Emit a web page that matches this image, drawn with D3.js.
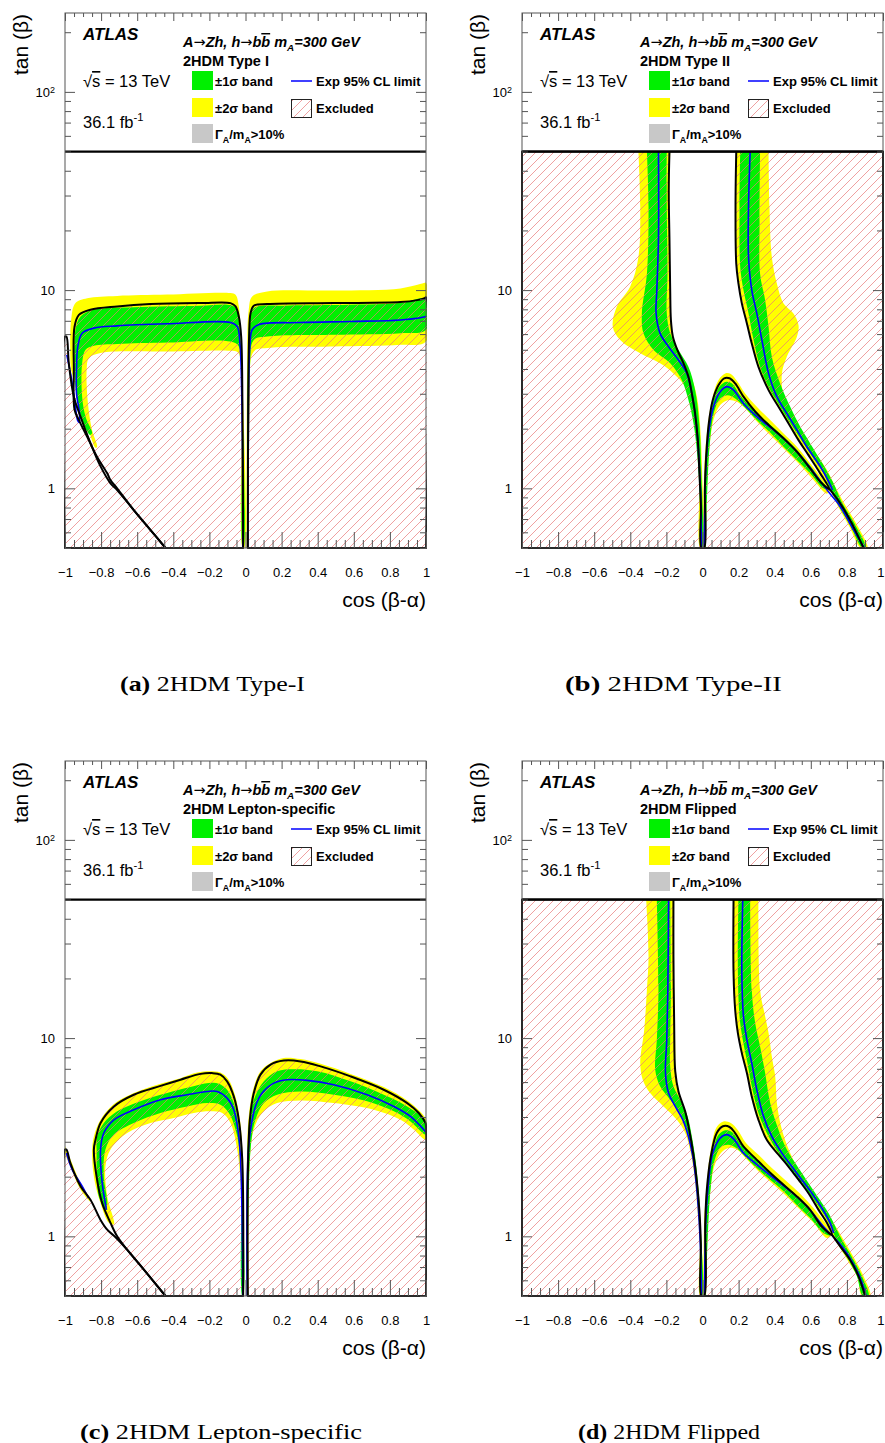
<!DOCTYPE html>
<html>
<head>
<meta charset="utf-8">
<script src="https://cdn.jsdelivr.net/npm/d3@7"></script>
<style>
  body { margin: 0; background: #fff; }
  svg { display: block; }
</style>
</head>
<body>
<div id="chart"></div>
<script>
// contourPanels - ATLAS A->Zh exclusion contours in the (cos(b-a), tan b) plane

// ---- axis data ----
const X_DOMAIN = [-1, 1];
const Y_DOMAIN = [0.5, 250];
const Y_CUT = 50; // contours are only drawn below tan(beta) = 50
const xMajorTicks = [-1, -0.8, -0.6, -0.4, -0.2, 0, 0.2, 0.4, 0.6, 0.8, 1];
const xTickLabels = ['\u22121', '\u22120.8', '\u22120.6', '\u22120.4', '\u22120.2', '0', '0.2', '0.4', '0.6', '0.8', '1'];
const xMinorTicks = d3.range(-1, 1.0001, 0.05).map(v => +v.toFixed(2)).filter(v => !xMajorTicks.includes(v));
const yMajorTicks = [1, 10, 100];
const yTickLabels = ['1', '10', '10^2'];
const yMinorTicks = [0.5, 0.6, 0.7, 0.8, 0.9, 2, 3, 4, 5, 6, 7, 8, 9, 20, 30, 40, 50, 60, 70, 80, 90, 200];

// ---- 2HDM Type I : [cos(beta-alpha), tan(beta)] ----
const typeI_obsCorner = [[-0.992,5.83],[-0.979,4.28],[-0.951,2.9],[-0.914,2.3],[-0.859,1.69],[-0.803,1.29],[-0.748,1.06],[-0.711,0.98],[-0.619,0.777],[-0.526,0.616],[-0.443,0.5]];
const typeI_obsLeft = [[-0.443,0.5],[-0.526,0.616],[-0.619,0.777],[-0.711,1.0],[-0.748,1.1],[-0.766,1.19],[-0.822,1.44],[-0.877,1.82],[-0.923,2.21],[-0.947,2.49],[-0.951,3.96],[-0.947,6.55],[-0.923,7.5],[-0.859,7.96],[-0.711,8.27],[-0.526,8.5],[-0.249,8.6],[-0.083,8.6],[-0.055,8.27],[-0.037,7.36],[-0.024,5.83],[-0.017,2.69],[-0.013,0.5]];
const typeI_obsRight = [[0.013,0.5],[0.015,2.69],[0.02,5.83],[0.028,7.65],[0.046,8.34],[0.12,8.5],[0.489,8.6],[0.859,8.7],[0.951,8.9],[0.992,9.1],[1,9.2]];
const typeI_expLeft = [[-0.99,4.71],[-0.965,3.6],[-0.945,2.7],[-0.93,2.2],[-0.922,2.15],[-0.92,2.4],[-0.936,3.0],[-0.936,3.96],[-0.929,5.19],[-0.905,6.06],[-0.84,6.43],[-0.711,6.6],[-0.434,6.76],[-0.083,6.86],[-0.046,6.55],[-0.031,5.4],[-0.02,2.69],[-0.015,0.5]];
const typeI_expRight = [[0.013,0.5],[0.017,2.69],[0.024,5.19],[0.037,6.31],[0.074,6.7],[0.305,6.86],[0.582,6.95],[0.859,7.07],[0.997,7.36],[1,7.4]];
const typeI_yellowLeft = [[-0.97,4.28],[-0.966,7.08],[-0.942,8.6],[-0.877,9.1],[-0.711,9.35],[-0.434,9.5],[-0.083,9.66],[-0.055,9.47],[-0.037,8.27],[-0.028,5.83],[-0.02,2.69],[-0.015,0.5],[-0.007,0.5],[-0.013,2.69],[-0.024,4.28],[-0.042,4.85],[-0.083,4.94],[-0.434,4.9],[-0.803,4.81],[-0.868,4.53],[-0.88,3.96],[-0.873,2.69],[-0.85,1.97],[-0.822,1.62],[-0.83,1.6],[-0.877,2.05],[-0.914,2.49],[-0.942,3.26],[-0.966,3.96]];
const typeI_greenLeft = [[-0.947,3.96],[-0.942,6.31],[-0.914,7.36],[-0.84,7.96],[-0.619,8.2],[-0.249,8.35],[-0.083,8.4],[-0.05,8.02],[-0.035,6.81],[-0.026,4.81],[-0.018,2.21],[-0.015,0.5],[-0.011,0.5],[-0.015,2.21],[-0.037,5.19],[-0.083,5.5],[-0.434,5.44],[-0.711,5.35],[-0.84,5.24],[-0.886,5.0],[-0.905,4.28],[-0.905,2.9],[-0.886,2.3],[-0.85,1.9],[-0.862,1.86],[-0.905,2.21],[-0.929,2.69],[-0.942,3.26]];
const typeI_yellowRight = [[0.006,0.5],[0.009,3.96],[0.018,7.96],[0.037,9.29],[0.12,9.85],[0.489,9.95],[0.859,10.2],[0.988,10.85],[1,10.9],[1,5.5],[0.859,5.3],[0.489,5.19],[0.12,5.1],[0.046,4.9],[0.024,2.69],[0.018,0.5]];
const typeI_greenRight = [[0.009,0.5],[0.013,3.96],[0.024,7.08],[0.046,8.1],[0.212,8.35],[0.489,8.4],[0.859,8.6],[1,9.0],[1,6.31],[0.859,6.06],[0.489,5.95],[0.12,5.83],[0.046,5.6],[0.024,3.96],[0.015,0.5]];

// ---- 2HDM Type II ----
const typeII_obsLeft = [[-0.183,50],[-0.187,31.9],[-0.183,17.9],[-0.179,10.0],[-0.175,7.06],[-0.164,5.82],[-0.139,4.98],[-0.105,4.27],[-0.078,3.66],[-0.059,3.01],[-0.041,2.39],[-0.026,1.75],[-0.017,1.19],[-0.009,0.81],[-0.006,0.5]];
const typeII_obsBump = [[0.009,0.5],[0.013,0.98],[0.02,1.44],[0.035,2.13],[0.057,2.79],[0.089,3.32],[0.12,3.59],[0.15,3.59],[0.181,3.38],[0.227,2.9],[0.292,2.44],[0.366,2.09],[0.449,1.79],[0.523,1.53],[0.596,1.26],[0.661,1.06],[0.704,0.99]];
const typeII_obsRight = [[0.187,50],[0.183,26.3],[0.187,13.6],[0.199,10.8],[0.218,8.57],[0.246,6.79],[0.273,5.38],[0.31,4.1],[0.366,3.13],[0.421,2.58],[0.476,2.13],[0.532,1.75],[0.587,1.47],[0.652,1.19],[0.707,1.0]];
const typeII_obsTail = [[0.704,0.99],[0.763,0.84],[0.827,0.666],[0.892,0.5]];
const typeII_expLeft = [[-0.244,50],[-0.244,17.9],[-0.253,10],[-0.257,7.63],[-0.235,6.05],[-0.188,5.18],[-0.133,4.44],[-0.087,3.8],[-0.059,3.01],[-0.035,2.13],[-0.02,1.44],[-0.011,0.98],[-0.006,0.5]];
const typeII_expBump = [[0.009,0.5],[0.017,1.19],[0.033,1.89],[0.061,2.58],[0.098,3.07],[0.135,3.26],[0.172,3.13],[0.227,2.68],[0.301,2.3],[0.393,1.97],[0.467,1.72],[0.541,1.47],[0.615,1.21],[0.698,0.96],[0.763,0.81],[0.837,0.617],[0.896,0.5]];
const typeII_expRight = [[0.264,50],[0.255,26.3],[0.255,14.7],[0.273,10],[0.301,7.63],[0.329,5.6],[0.366,3.8],[0.412,2.9],[0.467,2.39],[0.523,1.97],[0.578,1.62],[0.652,1.29],[0.704,1.06],[0.72,0.98]];
const typeII_greenLeft = [[-0.308,50],[-0.299,26.3],[-0.308,12.1],[-0.336,7.63],[-0.327,6.05],[-0.271,4.98],[-0.179,4.27],[-0.115,3.52],[-0.078,2.79],[-0.05,2.13],[-0.028,1.44],[-0.013,0.81],[-0.009,0.5],[-0.002,0.5],[-0.006,1.19],[-0.018,2.13],[-0.041,3.13],[-0.078,4.1],[-0.133,4.98],[-0.179,6.05],[-0.198,7.63],[-0.194,12.1],[-0.198,26.3],[-0.198,50]];
const typeII_yellowLeft = [[-0.355,50],[-0.345,26.3],[-0.355,14.7],[-0.401,10.4],[-0.475,8.25],[-0.497,6.53],[-0.456,5.6],[-0.345,4.8],[-0.235,4.27],[-0.161,3.8],[-0.096,3.26],[-0.059,2.58],[-0.035,1.97],[-0.017,1.19],[-0.013,0.5],[0.002,0.5],[-0.002,1.19],[-0.013,2.05],[-0.031,2.9],[-0.068,3.8],[-0.115,4.61],[-0.161,5.6],[-0.175,7.06],[-0.179,12.1],[-0.183,26.3],[-0.179,50]];
const typeII_yellowRight = [[0.19,50],[0.187,26.3],[0.19,13.1],[0.205,10.4],[0.227,8.25],[0.255,6.29],[0.292,4.61],[0.347,3.38],[0.412,2.68],[0.467,2.21],[0.523,1.82],[0.578,1.53],[0.643,1.24],[0.698,1.02],[0.748,0.82],[0.814,0.64],[0.877,0.5],[0.914,0.5],[0.851,0.666],[0.785,0.84],[0.735,1.02],[0.689,1.24],[0.615,1.56],[0.541,1.97],[0.486,2.39],[0.449,2.9],[0.44,3.8],[0.467,4.61],[0.523,5.82],[0.532,6.65],[0.504,7.63],[0.449,8.57],[0.412,10.8],[0.384,14.7],[0.371,26.3],[0.366,50]];
const typeII_greenRight = [[0.209,50],[0.205,26.3],[0.209,13.1],[0.227,10],[0.255,7.63],[0.283,5.6],[0.319,4.1],[0.375,3.13],[0.43,2.58],[0.486,2.13],[0.541,1.79],[0.596,1.5],[0.67,1.19],[0.707,1.0],[0.75,0.83],[0.818,0.65],[0.885,0.5],[0.905,0.5],[0.84,0.67],[0.772,0.85],[0.726,1.06],[0.67,1.31],[0.596,1.69],[0.541,2.05],[0.486,2.58],[0.43,3.38],[0.384,4.61],[0.366,6.53],[0.347,8.9],[0.319,12.1],[0.316,21.7],[0.319,50]];
const typeII_yellowBump = [[0.006,0.5],[0.009,1.19],[0.024,1.89],[0.052,2.79],[0.089,3.52],[0.126,3.8],[0.157,3.77],[0.19,3.49],[0.236,3.01],[0.301,2.58],[0.375,2.21],[0.449,1.89],[0.523,1.62],[0.596,1.34],[0.67,1.1],[0.707,1.0],[0.689,0.94],[0.615,1.1],[0.541,1.31],[0.467,1.53],[0.393,1.79],[0.31,2.13],[0.246,2.48],[0.19,2.73],[0.144,2.79],[0.098,2.63],[0.061,2.21],[0.039,1.62],[0.024,0.98],[0.02,0.5]];
const typeII_greenBump = [[0.009,0.5],[0.015,1.19],[0.03,1.89],[0.057,2.68],[0.094,3.26],[0.131,3.45],[0.163,3.38],[0.209,2.95],[0.283,2.48],[0.366,2.13],[0.449,1.82],[0.523,1.56],[0.596,1.3],[0.67,1.06],[0.704,0.99],[0.67,1.0],[0.596,1.19],[0.523,1.39],[0.449,1.62],[0.375,1.91],[0.301,2.21],[0.231,2.58],[0.181,2.84],[0.139,2.95],[0.098,2.84],[0.065,2.44],[0.042,1.75],[0.028,1.06],[0.017,0.5]];

// ---- 2HDM Lepton-specific ----
const lep_obsCorner = [[-0.992,2.74],[-0.97,2.34],[-0.914,1.79],[-0.859,1.53],[-0.803,1.21],[-0.766,1.08],[-0.72,0.99],[-0.656,0.857],[-0.563,0.679],[-0.443,0.5]];
const lep_obsLeft = [[-0.443,0.5],[-0.563,0.679],[-0.656,0.857],[-0.711,1.0],[-0.748,1.17],[-0.794,1.47],[-0.825,2.0],[-0.84,2.74],[-0.831,3.07],[-0.803,3.73],[-0.729,4.52],[-0.619,5.18],[-0.471,5.74],[-0.36,6.17],[-0.249,6.6],[-0.185,6.66],[-0.139,6.54],[-0.102,6.05],[-0.065,5.08],[-0.037,3.87],[-0.018,2.44],[-0.013,0.5]];
const lep_obsRight = [[0.013,0.5],[0.013,2.0],[0.024,3.87],[0.046,5.28],[0.083,6.54],[0.139,7.35],[0.212,7.7],[0.305,7.63],[0.416,7.2],[0.582,6.41],[0.766,5.49],[0.896,4.7],[0.96,4.19],[0.997,3.73],[1,3.6]];
const lep_expCorner = [[-0.992,2.63],[-0.96,2.17],[-0.905,1.79],[-0.87,1.56]];
const lep_expLeft = [[-0.77,1.36],[-0.794,1.86],[-0.803,2.74],[-0.785,3.32],[-0.729,3.87],[-0.619,4.35],[-0.471,4.89],[-0.323,5.18],[-0.212,5.38],[-0.157,5.38],[-0.102,4.98],[-0.065,4.35],[-0.037,3.19],[-0.024,2.0],[-0.015,0.5]];
const lep_expRight = [[0.009,0.5],[0.013,2.44],[0.028,3.45],[0.055,4.52],[0.092,5.28],[0.157,5.93],[0.231,6.17],[0.342,6.12],[0.489,5.82],[0.674,5.18],[0.822,4.52],[0.914,4.03],[0.988,3.45],[1,3.35]];
const lep_yellowCorner = [[-1,2.85],[-0.97,2.45],[-0.914,1.86],[-0.87,1.6],[-0.86,1.5],[-0.914,1.72],[-0.97,2.25],[-1,2.6]];
const lep_yellowLeft = [[-0.011,0.5],[-0.015,2.44],[-0.031,3.87],[-0.059,5.18],[-0.096,6.22],[-0.139,6.7],[-0.194,6.8],[-0.268,6.7],[-0.36,6.28],[-0.471,5.89],[-0.619,5.28],[-0.729,4.65],[-0.803,3.87],[-0.84,3.19],[-0.85,2.63],[-0.837,1.93],[-0.803,1.47],[-0.757,1.17],[-0.729,1.15],[-0.766,1.59],[-0.776,2.25],[-0.748,2.74],[-0.656,3.32],[-0.526,3.73],[-0.397,3.95],[-0.286,4.19],[-0.194,4.27],[-0.129,4.19],[-0.083,3.73],[-0.046,2.74],[-0.024,1.65],[-0.017,0.5]];
const lep_greenLeft = [[-0.825,2.74],[-0.822,3.19],[-0.785,3.73],[-0.711,4.27],[-0.582,4.8],[-0.434,5.28],[-0.305,5.66],[-0.203,5.93],[-0.148,5.89],[-0.102,5.49],[-0.065,4.7],[-0.039,3.59],[-0.024,2.0],[-0.018,0.5],[-0.013,0.5],[-0.028,2.44],[-0.055,3.45],[-0.092,4.19],[-0.139,4.61],[-0.212,4.7],[-0.323,4.52],[-0.471,4.19],[-0.619,3.73],[-0.729,3.26],[-0.776,2.74],[-0.785,2.0],[-0.766,1.47],[-0.776,1.36],[-0.812,1.59],[-0.825,2.0]];
const lep_yellowRight = [[0.006,0.5],[0.009,2.74],[0.018,4.03],[0.042,5.49],[0.083,6.8],[0.139,7.49],[0.212,7.94],[0.305,7.84],[0.416,7.42],[0.582,6.6],[0.766,5.66],[0.896,4.85],[0.966,4.27],[1,3.87],[1,3.07],[0.933,3.45],[0.859,3.87],[0.711,4.35],[0.489,4.7],[0.305,4.85],[0.175,4.7],[0.092,4.19],[0.046,3.45],[0.024,2.44],[0.017,0.5]];
const lep_greenRight = [[0.009,0.5],[0.013,2.95],[0.028,4.19],[0.055,5.12],[0.102,6.05],[0.175,6.8],[0.268,6.97],[0.397,6.8],[0.582,6.05],[0.766,5.18],[0.896,4.52],[1,3.8],[1,3.26],[0.914,3.8],[0.822,4.27],[0.674,4.8],[0.489,5.18],[0.305,5.38],[0.175,5.18],[0.102,4.7],[0.055,3.87],[0.028,2.74],[0.013,0.5]];

// ---- 2HDM Flipped ----
const flip_obsLeft = [[-0.161,50],[-0.161,25.8],[-0.157,11.9],[-0.151,6.79],[-0.133,5.38],[-0.096,4.27],[-0.072,3.38],[-0.05,2.58],[-0.031,1.89],[-0.017,1.34],[-0.009,0.91],[-0.006,0.5]];
const flip_obsBump = [[0.009,0.5],[0.015,1.17],[0.024,1.72],[0.046,2.53],[0.079,3.32],[0.113,3.59],[0.15,3.56],[0.181,3.32],[0.227,2.84],[0.292,2.48],[0.366,2.13],[0.449,1.82],[0.523,1.59],[0.596,1.36],[0.661,1.12],[0.717,1.02]];
const flip_obsRight = [[0.172,50],[0.172,21.3],[0.181,13.9],[0.196,10.6],[0.218,8.4],[0.246,6.66],[0.273,5.08],[0.31,3.87],[0.356,3.07],[0.421,2.58],[0.476,2.25],[0.532,1.93],[0.587,1.65],[0.643,1.36],[0.689,1.17],[0.717,1.02]];
const flip_obsTail = [[0.717,1.02],[0.763,0.89],[0.818,0.76],[0.864,0.63],[0.901,0.5]];
const flip_expLeft = [[-0.188,50],[-0.192,17.5],[-0.198,9.81],[-0.205,6.66],[-0.188,5.28],[-0.151,4.52],[-0.109,3.87],[-0.078,3.19],[-0.054,2.53],[-0.035,1.86],[-0.02,1.26],[-0.011,0.86],[-0.006,0.5]];
const flip_expBump = [[0.011,0.5],[0.018,1.17],[0.033,1.86],[0.057,2.63],[0.098,3.13],[0.135,3.26],[0.172,3.1],[0.227,2.63],[0.301,2.3],[0.393,1.97],[0.486,1.69],[0.578,1.42],[0.67,1.12],[0.722,1.0],[0.772,0.89],[0.827,0.75],[0.873,0.62],[0.907,0.5]];
const flip_expRight = [[0.223,50],[0.218,21.3],[0.227,12.9],[0.246,9.81],[0.273,7.48],[0.301,5.49],[0.338,4.03],[0.384,3.19],[0.44,2.63],[0.495,2.25],[0.55,1.93],[0.606,1.65],[0.661,1.39],[0.707,1.17],[0.726,1.04]];
const flip_greenLeft = [[-0.253,50],[-0.244,17.5],[-0.253,9.81],[-0.262,6.92],[-0.235,5.71],[-0.179,4.89],[-0.124,4.19],[-0.087,3.45],[-0.059,2.63],[-0.039,1.93],[-0.024,1.36],[-0.013,0.93],[-0.009,0.5],[-0.002,0.5],[-0.011,1.17],[-0.022,1.72],[-0.039,2.44],[-0.059,3.19],[-0.083,4.03],[-0.124,4.89],[-0.161,5.71],[-0.179,7.2],[-0.179,9.81],[-0.175,17.5],[-0.179,50]];
const flip_yellowLeft = [[-0.312,50],[-0.299,25.8],[-0.308,17.5],[-0.323,11.0],[-0.345,7.48],[-0.331,6.17],[-0.29,5.28],[-0.216,4.52],[-0.142,3.87],[-0.096,3.32],[-0.065,2.63],[-0.042,1.93],[-0.028,1.36],[-0.015,0.93],[-0.013,0.5],[0.002,0.5],[-0.006,0.93],[-0.015,1.36],[-0.028,1.93],[-0.046,2.63],[-0.068,3.45],[-0.096,4.35],[-0.139,5.49],[-0.151,6.92],[-0.151,8.73],[-0.157,17.5],[-0.161,50]];
const flip_yellowRight = [[0.172,50],[0.172,21.3],[0.181,13.9],[0.196,10.6],[0.218,8.4],[0.246,6.66],[0.273,5.08],[0.31,3.87],[0.356,3.07],[0.421,2.58],[0.476,2.25],[0.532,1.93],[0.587,1.65],[0.643,1.36],[0.689,1.17],[0.722,1.0],[0.763,0.87],[0.814,0.73],[0.859,0.62],[0.883,0.5],[0.929,0.5],[0.892,0.63],[0.846,0.76],[0.79,0.93],[0.754,1.06],[0.707,1.24],[0.652,1.47],[0.596,1.75],[0.541,2.09],[0.486,2.63],[0.44,3.45],[0.412,4.7],[0.403,6.41],[0.384,8.08],[0.366,10.6],[0.347,12.9],[0.319,17.5],[0.31,50]];
const flip_greenRight = [[0.199,50],[0.196,21.3],[0.205,12.9],[0.223,9.81],[0.249,7.48],[0.277,5.49],[0.316,4.03],[0.366,3.19],[0.421,2.63],[0.476,2.25],[0.537,1.92],[0.596,1.62],[0.661,1.34],[0.711,1.12],[0.726,1.04],[0.754,0.91],[0.809,0.76],[0.855,0.63],[0.888,0.5],[0.92,0.5],[0.883,0.63],[0.837,0.76],[0.781,0.93],[0.744,1.08],[0.698,1.31],[0.643,1.56],[0.587,1.86],[0.532,2.21],[0.467,2.74],[0.421,3.45],[0.375,4.7],[0.347,6.66],[0.319,9.08],[0.292,11.9],[0.273,17.5],[0.264,50]];
const flip_yellowBump = [[0.006,0.5],[0.009,1.17],[0.024,1.86],[0.046,2.74],[0.079,3.56],[0.116,3.8],[0.157,3.73],[0.194,3.45],[0.242,2.95],[0.31,2.58],[0.384,2.21],[0.467,1.89],[0.541,1.64],[0.615,1.39],[0.68,1.17],[0.717,1.02],[0.689,0.98],[0.615,1.17],[0.541,1.36],[0.467,1.59],[0.384,1.86],[0.31,2.13],[0.246,2.44],[0.19,2.74],[0.144,2.79],[0.102,2.63],[0.065,2.25],[0.042,1.65],[0.028,1.04],[0.02,0.5]];
const flip_greenBump = [[0.009,0.5],[0.017,1.17],[0.031,1.86],[0.054,2.63],[0.09,3.26],[0.127,3.43],[0.163,3.36],[0.209,2.95],[0.283,2.53],[0.366,2.15],[0.449,1.84],[0.523,1.6],[0.596,1.36],[0.67,1.12],[0.711,1.01],[0.67,1.04],[0.596,1.24],[0.523,1.44],[0.449,1.69],[0.375,1.93],[0.301,2.21],[0.236,2.53],[0.187,2.79],[0.142,2.9],[0.102,2.82],[0.068,2.44],[0.046,1.79],[0.03,1.04],[0.018,0.5]];

// ---- text ----
const processParts = [{ t: 'A' }, { t: '\u2192', arrow: true }, { t: 'Zh, h' }, { t: '\u2192', arrow: true }, { t: 'b' }, { t: 'b', over: true }, { t: ' m' }, { t: 'A', sub: true }, { t: '=300 GeV' }];
const energyParts = [{ t: '\u221A' }, { t: 's', over: true }, { t: ' = 13 TeV' }];
const lumiParts = [{ t: '36.1 fb' }, { t: '-1', sup: true }];
const widthParts = [{ t: '\u0393' }, { t: 'A', sub: true }, { t: '/m' }, { t: 'A', sub: true }, { t: '>10%' }];

const SANS = "'Liberation Sans', Arial, Helvetica, sans-serif";
const SERIF = "'Liberation Serif', 'Times New Roman', serif";
const COLORS = { yellow: '#ffff00', green: '#00f000', gray: '#c8c8c8', blue: '#0000ff', hatch: '#e87878' };

function richText(parent, x, y, parts, style) {
  const t = parent.append('text')
    .attr('x', x)
    .attr('y', y)
    .attr('font-size', style.size)
    .attr('font-weight', style.weight || 'normal')
    .attr('font-style', style.italic ? 'italic' : 'normal');
  let shift = 0;
  parts.forEach(p => {
    const target = p.sub ? style.size * 0.3 : (p.sup ? -style.size * 0.42 : 0);
    const span = t.append('tspan').attr('dy', target - shift).text(p.t);
    if (p.sub || p.sup) span.attr('font-size', style.size * 0.68);
    if (p.over) span.style('text-decoration', 'overline');
    if (p.arrow) span.attr('font-family', "'DejaVu Sans', sans-serif").attr('font-style', 'normal').attr('font-weight', 'normal');
    shift = target;
  });
  return t;
}

class ContourPanel {
  constructor(svg, options) {
    this.svg = svg;
    this.opts = options;
    this.width = 361;
    this.height = 535;

    this.x = d3.scaleLinear().domain(X_DOMAIN).range([0, this.width]);
    this.y = d3.scaleLog().domain(Y_DOMAIN).range([this.height, 0]);

    this.smooth = d3.line()
      .x(d => this.x(d[0]))
      .y(d => this.y(d[1]))
      .curve(d3.curveCatmullRom.alpha(0.5));
    this.linear = d3.line()
      .x(d => this.x(d[0]))
      .y(d => this.y(d[1]));

    this.g = svg.append('g')
      .attr('transform', `translate(${options.left}, ${options.top})`);

    this.init();
  }

  init() {
    const cutY = this.y(Y_CUT);
    this.svg.select('defs').append('clipPath')
      .attr('id', `clip-${this.opts.id}`)
      .append('rect')
      .attr('x', -1)
      .attr('y', cutY - 1.5)
      .attr('width', this.width + 2)
      .attr('height', this.height - cutY + 2.5);

    this.plot = this.g.append('g')
      .attr('clip-path', `url(#clip-${this.opts.id})`);

    this.drawBands();
    this.buildExcluded();
    this.drawHatch();
    this.drawExpected();
    this.drawObserved();
    this.drawFrame();
    this.drawAxes();
    this.drawLegend();
    this.drawCaption();
  }

  drawBands() {
    const bands = this.plot.append('g').attr('class', 'bands');
    this.opts.yellow.forEach(poly => {
      bands.append('path')
        .attr('d', this.smooth(poly) + 'Z')
        .attr('fill', COLORS.yellow);
    });
    this.opts.green.forEach(poly => {
      bands.append('path')
        .attr('d', this.smooth(poly) + 'Z')
        .attr('fill', COLORS.green);
    });
  }

  buildExcluded() {
    const ex = this.opts.excluded;
    const [x0, x1] = X_DOMAIN;
    const y0 = Y_DOMAIN[0];

    if (ex.hole) {
      // everything below tan(beta)=50 is excluded except the allowed funnel
      const [left, bump, right] = ex.hole;
      const hole = left.concat(bump, right.slice().reverse().slice(1));
      const outer = [[x0, y0], [x1, y0], [x1, Y_CUT], [x0, Y_CUT]];
      this.excludedPaths = [this.linear(outer) + 'Z' + this.smooth(hole) + 'Z'];
      this.extraLines = ex.extra || [];
    } else {
      // separate excluded islands touching the frame
      const corner = [[x0, y0], [x0, ex.corner[0][1]]].concat(ex.corner);
      const right = ex.right.concat([[x1, y0]]);
      this.excludedPaths = [corner, ex.left, right].map(r => this.smooth(r) + 'Z');
      this.extraLines = [];
    }
  }

  drawHatch() {
    const hatch = this.plot.append('g').attr('class', 'excluded');
    this.excludedPaths.forEach(d => {
      hatch.append('path')
        .attr('d', d)
        .attr('fill', 'url(#hatch)')
        .attr('fill-rule', 'evenodd');
    });
  }

  drawExpected() {
    const exp = this.plot.append('g').attr('class', 'expected');
    this.opts.expected.forEach(line => {
      exp.append('path')
        .attr('d', this.smooth(line))
        .attr('fill', 'none')
        .attr('stroke', COLORS.blue)
        .attr('stroke-width', 1.6);
    });
  }

  drawObserved() {
    const obs = this.plot.append('g').attr('class', 'observed');
    this.excludedPaths.forEach(d => {
      obs.append('path')
        .attr('d', d)
        .attr('fill', 'none')
        .attr('stroke', '#000')
        .attr('stroke-width', 2)
        .attr('stroke-linejoin', 'round');
    });
    this.extraLines.forEach(line => {
      obs.append('path')
        .attr('d', this.smooth(line))
        .attr('fill', 'none')
        .attr('stroke', '#000')
        .attr('stroke-width', 2);
    });
  }

  drawFrame() {
    // line closing the plotted region at tan(beta)=50
    this.g.append('line')
      .attr('x1', 0)
      .attr('x2', this.width)
      .attr('y1', this.y(Y_CUT))
      .attr('y2', this.y(Y_CUT))
      .attr('stroke', '#000')
      .attr('stroke-width', 2.2);

    this.g.append('rect')
      .attr('width', this.width)
      .attr('height', this.height)
      .attr('fill', 'none')
      .attr('stroke', '#555')
      .attr('stroke-width', 1);
  }

  drawAxes() {
    const axes = this.g.append('g').attr('class', 'axes');
    const w = this.width;
    const h = this.height;

    const bottom = axes.append('g')
      .attr('transform', `translate(0, ${h})`)
      .call(d3.axisBottom(this.x)
        .tickValues(xMajorTicks)
        .tickSizeInner(-16)
        .tickSizeOuter(0)
        .tickPadding(20)
        .tickFormat((d, i) => xTickLabels[i]));

    axes.append('g')
      .attr('transform', `translate(0, ${h})`)
      .call(d3.axisBottom(this.x).tickValues(xMinorTicks).tickSizeInner(-8).tickSizeOuter(0).tickFormat(''));

    axes.append('g')
      .call(d3.axisTop(this.x).tickValues(xMajorTicks).tickSizeInner(-8).tickSizeOuter(0).tickFormat(''));
    axes.append('g')
      .call(d3.axisTop(this.x).tickValues(xMinorTicks).tickSizeInner(-4).tickSizeOuter(0).tickFormat(''));

    const left = axes.append('g')
      .call(d3.axisLeft(this.y)
        .tickValues(yMajorTicks)
        .tickSizeInner(-10)
        .tickSizeOuter(0)
        .tickPadding(10)
        .tickFormat((d, i) => yTickLabels[i].split('^')[0]));
    axes.append('g')
      .call(d3.axisLeft(this.y).tickValues(yMinorTicks).tickSizeInner(-6).tickSizeOuter(0).tickFormat(''));

    axes.append('g')
      .attr('transform', `translate(${w}, 0)`)
      .call(d3.axisRight(this.y).tickValues(yMajorTicks).tickSizeInner(-10).tickSizeOuter(0).tickFormat(''));
    axes.append('g')
      .attr('transform', `translate(${w}, 0)`)
      .call(d3.axisRight(this.y).tickValues(yMinorTicks).tickSizeInner(-6).tickSizeOuter(0).tickFormat(''));

    // exponent for 10^2
    left.selectAll('.tick text').each(function(d, i) {
      const parts = yTickLabels[i].split('^');
      if (parts.length > 1) {
        d3.select(this).append('tspan')
          .attr('dy', '-0.45em')
          .attr('font-size', 9)
          .text(parts[1]);
      }
    });

    axes.selectAll('.domain').remove();
    axes.selectAll('.tick line')
      .attr('stroke', '#555')
      .attr('stroke-width', 1);
    axes.selectAll('.tick text')
      .attr('font-size', 13)
      .attr('font-family', SANS)
      .attr('fill', '#000');
    axes.attr('font-family', SANS);

    // keep the last label inside the page
    const panelLeft = this.opts.left;
    const xs = this.x;
    bottom.selectAll('.tick text').each(function(d) {
      const bb = this.getBBox();
      const right = panelLeft + xs(d) + bb.x + bb.width;
      if (right > 884) d3.select(this).attr('dx', 884 - right);
    });

    // axis titles
    this.g.append('text')
      .attr('transform', 'rotate(-90)')
      .attr('x', -1)
      .attr('y', -37)
      .attr('text-anchor', 'end')
      .attr('font-family', SANS)
      .attr('font-size', 21)
      .text('tan (\u03B2)');

    this.g.append('text')
      .attr('x', w)
      .attr('y', 594)
      .attr('text-anchor', 'end')
      .attr('font-family', SANS)
      .attr('font-size', 21)
      .text('cos (\u03B2-\u03B1)');
  }

  drawLegend() {
    const L = this.g.append('g')
      .attr('class', 'legend')
      .attr('font-family', SANS);

    L.append('text')
      .attr('x', 18)
      .attr('y', 27)
      .attr('font-size', 17)
      .attr('font-weight', 'bold')
      .attr('font-style', 'italic')
      .text('ATLAS');

    richText(L, 118, 34, processParts, { size: 14.5, weight: 'bold', italic: true });

    L.append('text')
      .attr('x', 118)
      .attr('y', 53)
      .attr('font-size', 14.5)
      .attr('font-weight', 'bold')
      .text(this.opts.model);

    richText(L, 18, 74, energyParts, { size: 16.5 });
    richText(L, 18, 115, lumiParts, { size: 16.5 });

    // colour boxes
    const boxes = [
      { y: 58, fill: COLORS.green },
      { y: 85, fill: COLORS.yellow },
      { y: 111, fill: COLORS.gray }
    ];
    boxes.forEach(b => {
      L.append('rect')
        .attr('x', 127)
        .attr('y', b.y)
        .attr('width', 21)
        .attr('height', 19)
        .attr('fill', b.fill);
    });

    const entry = { size: 13, weight: 'bold' };
    richText(L, 150, 73, [{ t: '\u00B11\u03C3 band' }], entry);
    richText(L, 150, 100, [{ t: '\u00B12\u03C3 band' }], entry);
    richText(L, 150, 126, widthParts, entry);

    L.append('line')
      .attr('x1', 226)
      .attr('x2', 247)
      .attr('y1', 68)
      .attr('y2', 68)
      .attr('stroke', COLORS.blue)
      .attr('stroke-width', 1.5);
    richText(L, 251, 73, [{ t: 'Exp 95% CL limit' }], entry);

    L.append('rect')
      .attr('x', 226.5)
      .attr('y', 86.5)
      .attr('width', 20)
      .attr('height', 18)
      .attr('fill', 'url(#hatch)')
      .attr('stroke', '#222')
      .attr('stroke-width', 1);
    richText(L, 251, 100, [{ t: 'Excluded' }], entry);
  }

  drawCaption() {
    const c = this.opts.caption;
    const t = this.svg.append('text')
      .attr('x', c.x)
      .attr('y', c.y)
      .attr('font-family', SERIF)
      .attr('font-size', 21)
      .attr('textLength', c.width)
      .attr('lengthAdjust', 'spacingAndGlyphs');
    t.append('tspan').attr('font-weight', 'bold').text(c.label);
    t.append('tspan').text(c.text);
  }
}

// ---- build figure ----
const svg = d3.select('#chart')
  .append('svg')
  .attr('width', 885)
  .attr('height', 1443);

const defs = svg.append('defs');
const pattern = defs.append('pattern')
  .attr('id', 'hatch')
  .attr('patternUnits', 'userSpaceOnUse')
  .attr('width', 9)
  .attr('height', 9);
pattern.append('path')
  .attr('d', 'M-1,1 L1,-1 M0,9 L9,0 M8,10 L10,8')
  .attr('stroke', COLORS.hatch)
  .attr('stroke-width', 0.7);

const panelConfigs = [
  {
    id: 'a', left: 65, top: 13, model: '2HDM Type I',
    caption: { label: '(a)', text: ' 2HDM Type-I', x: 120, y: 691, width: 185 },
    yellow: [typeI_yellowLeft, typeI_yellowRight],
    green: [typeI_greenLeft, typeI_greenRight],
    expected: [typeI_expLeft, typeI_expRight],
    excluded: { corner: typeI_obsCorner, left: typeI_obsLeft, right: typeI_obsRight }
  },
  {
    id: 'b', left: 522, top: 13, model: '2HDM Type II',
    caption: { label: '(b)', text: ' 2HDM Type-II', x: 565, y: 691, width: 217 },
    yellow: [typeII_yellowLeft, typeII_yellowRight, typeII_yellowBump],
    green: [typeII_greenLeft, typeII_greenRight, typeII_greenBump],
    expected: [typeII_expLeft, typeII_expBump, typeII_expRight],
    excluded: { hole: [typeII_obsLeft, typeII_obsBump, typeII_obsRight], extra: [typeII_obsTail] }
  },
  {
    id: 'c', left: 65, top: 761, model: '2HDM Lepton-specific',
    caption: { label: '(c)', text: ' 2HDM Lepton-specific', x: 80, y: 1439, width: 282 },
    yellow: [lep_yellowCorner, lep_yellowLeft, lep_yellowRight],
    green: [lep_greenLeft, lep_greenRight],
    expected: [lep_expCorner, lep_expLeft, lep_expRight],
    excluded: { corner: lep_obsCorner, left: lep_obsLeft, right: lep_obsRight }
  },
  {
    id: 'd', left: 522, top: 761, model: '2HDM Flipped',
    caption: { label: '(d)', text: ' 2HDM Flipped', x: 578, y: 1439, width: 182 },
    yellow: [flip_yellowLeft, flip_yellowRight, flip_yellowBump],
    green: [flip_greenLeft, flip_greenRight, flip_greenBump],
    expected: [flip_expLeft, flip_expBump, flip_expRight],
    excluded: { hole: [flip_obsLeft, flip_obsBump, flip_obsRight], extra: [flip_obsTail] }
  }
];

panelConfigs.forEach(cfg => new ContourPanel(svg, cfg));
</script>
</body>
</html>
